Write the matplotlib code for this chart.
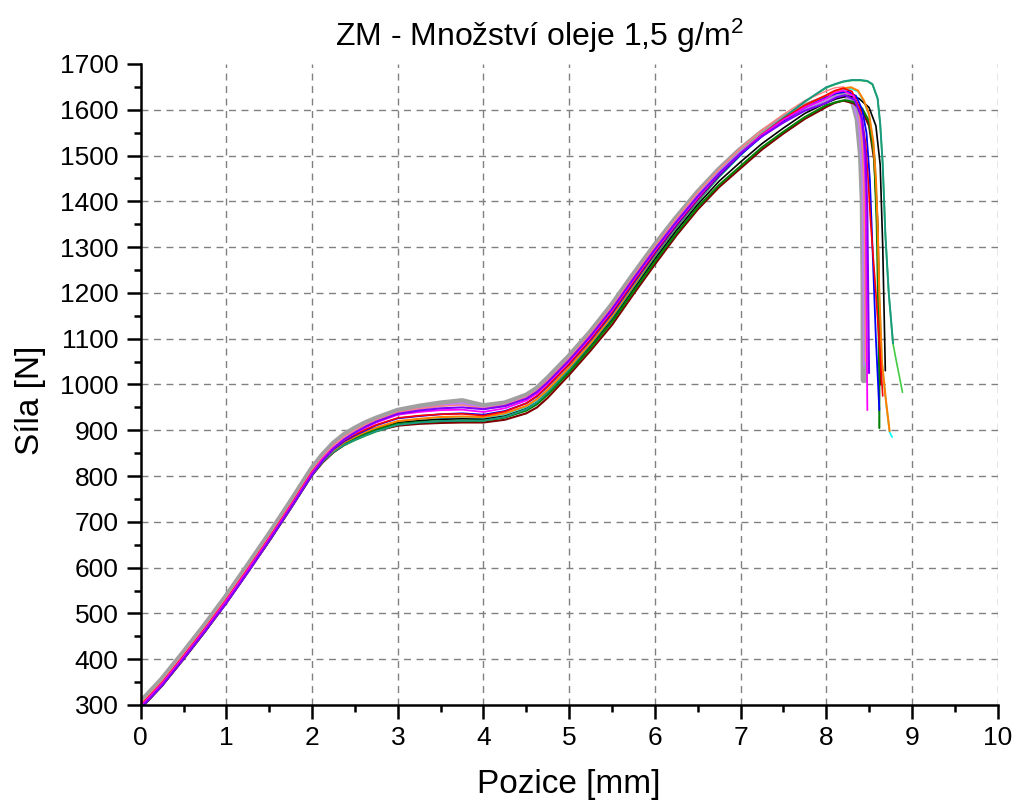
import matplotlib
matplotlib.use("Agg")
import matplotlib.pyplot as plt
from matplotlib.ticker import MultipleLocator

plt.rcParams['font.family'] = ['Liberation Sans', 'DejaVu Sans']
plt.rcParams['mathtext.fontset'] = 'custom'
plt.rcParams['mathtext.rm'] = 'Liberation Sans'

# common positions [mm] for the loading part of every test
X_BODY = [0, 0.25, 0.5, 0.75, 1.0, 1.25, 1.5, 1.75, 2.0,
          2.125, 2.25, 2.375, 2.5, 2.625, 2.75,
          3.0, 3.25, 3.5, 3.75, 4.0,
          4.25, 4.5, 4.625, 4.75,
          5.0, 5.25, 5.5, 5.75, 6.0, 6.25, 6.5, 6.75, 7.0, 7.25, 7.5, 7.75, 8.0]

# force [N] on X_BODY for each measurement
gray_f = [305, 355, 413, 473, 536, 603, 671, 742, 815,
          845, 870, 889, 903, 915, 925,
          942, 951, 958, 963, 952,
          958, 975, 990, 1012,
          1060, 1113, 1172, 1238, 1302, 1362, 1418, 1468, 1512, 1550, 1581, 1607, 1625]
salmon_f = [302, 352, 410, 470, 533, 600, 668, 739, 812,
            842, 867, 886, 900, 912, 922,
            939, 947, 953, 955, 948,
            955, 972, 987, 1009,
            1057, 1111, 1170, 1236, 1301, 1362, 1419, 1470, 1516, 1556, 1590, 1620, 1641]
lavender_f = [300, 351, 409, 469, 532, 599, 667, 738, 811,
              841, 866, 885, 899, 911, 921,
              938, 947, 954, 959, 949,
              955, 972, 986, 1008,
              1056, 1109, 1168, 1234, 1298, 1358, 1414, 1464, 1508, 1546, 1577, 1603, 1621]
purple_f = [293, 343, 401, 461, 523, 590, 659, 730, 803,
            834, 860, 880, 895, 908, 919,
            936, 943, 948, 950, 946,
            953, 969, 984, 1005,
            1053, 1106, 1165, 1231, 1295, 1355, 1411, 1461, 1505, 1542, 1572, 1598, 1615]
magenta_f = [297, 347, 405, 465, 528, 595, 663, 734, 807,
             838, 862, 880, 894, 906, 917,
             934, 940, 944, 945, 940,
             948, 965, 980, 1002,
             1050, 1103, 1162, 1228, 1292, 1352, 1408, 1460, 1505, 1545, 1578, 1605, 1625]
red_f = [299, 349, 407, 467, 530, 597, 665, 736, 809,
         838, 861, 878, 891, 902, 912,
         927, 932, 935, 936, 932,
         941, 959, 975, 997,
         1045, 1099, 1158, 1224, 1289, 1350, 1406, 1459, 1505, 1546, 1580, 1610, 1632]
blue_f = [295, 345, 403, 463, 526, 593, 661, 732, 805,
          835, 859, 876, 889, 900, 911,
          926, 931, 935, 937, 934,
          942, 959, 974, 996,
          1044, 1097, 1155, 1221, 1286, 1347, 1404, 1456, 1502, 1542, 1576, 1605, 1627]
orange_f = [296, 346, 404, 464, 527, 594, 662, 733, 806,
            835, 857, 874, 886, 897, 906,
            920, 925, 929, 930, 929,
            937, 953, 968, 989,
            1038, 1091, 1150, 1217, 1284, 1346, 1403, 1456, 1503, 1544, 1578, 1608, 1630]
cyan_f = [295, 345, 403, 463, 526, 593, 661, 732, 805,
          834, 856, 873, 885, 896, 905,
          919, 924, 927, 928, 927,
          935, 951, 966, 987,
          1036, 1089, 1148, 1215, 1282, 1344, 1401, 1454, 1501, 1542, 1576, 1606, 1628]
green_f = [293, 343, 401, 461, 524, 591, 659, 730, 803,
           832, 855, 871, 883, 893, 902,
           914, 918, 920, 921, 921,
           928, 943, 957, 978,
           1027, 1080, 1137, 1203, 1268, 1330, 1387, 1436, 1477, 1518, 1552, 1584, 1610]
brown_f = [292, 342, 400, 460, 523, 590, 658, 729, 802,
           830, 852, 868, 880, 890, 899,
           910, 914, 916, 917, 917,
           923, 937, 950, 971,
           1021, 1074, 1130, 1197, 1262, 1325, 1382, 1431, 1472, 1513, 1548, 1580, 1606]
black_f = [293, 344, 402, 462, 525, 592, 660, 731, 803,
           833, 856, 873, 885, 895, 904,
           917, 921, 924, 925, 924,
           931, 947, 961, 982,
           1031, 1085, 1142, 1208, 1274, 1336, 1393, 1444, 1486, 1526, 1560, 1592, 1615]
teal_f = [294, 344, 402, 462, 525, 592, 660, 731, 804,
          832, 853, 868, 879, 889, 898,
          912, 917, 920, 921, 921,
          929, 946, 961, 983,
          1033, 1088, 1146, 1213, 1280, 1343, 1400, 1454, 1502, 1545, 1582, 1618, 1649]
lime_f = [293, 343, 401, 461, 524, 591, 659, 730, 803,
          831, 852, 867, 878, 888, 897,
          911, 916, 919, 920, 920,
          928, 945, 960, 982,
          1032, 1087, 1145, 1212, 1279, 1342, 1399, 1453, 1501, 1544, 1581, 1617, 1648]

# peak and fracture part (position, force)
gray_tx = [8.1, 8.17, 8.25, 8.32, 8.37, 8.41, 8.43, 8.44, 8.44]
gray_ty = [1634, 1638, 1634, 1615, 1580, 1500, 1400, 1200, 1010]
salmon_tx = [8.1, 8.2, 8.3, 8.38, 8.43, 8.45, 8.46]
salmon_ty = [1648, 1650, 1640, 1600, 1500, 1300, 1050]
lavender_tx = [8.15, 8.3, 8.38, 8.42, 8.44]
lavender_ty = [1632, 1620, 1570, 1450, 1040]
purple_tx = [8.12, 8.22, 8.33, 8.42, 8.46, 8.48, 8.49, 8.5]
purple_ty = [1627, 1632, 1622, 1580, 1500, 1380, 1200, 1025]
magenta_tx = [8.1, 8.2, 8.32, 8.4, 8.44, 8.46, 8.47, 8.48]
magenta_ty = [1637, 1642, 1630, 1590, 1530, 1430, 1200, 944]
red_tx = [8.1, 8.2, 8.3, 8.4, 8.46, 8.49, 8.52, 8.58, 8.63, 8.66]
red_ty = [1642, 1647, 1640, 1600, 1527, 1446, 1350, 1200, 1060, 975]
blue_tx = [8.12, 8.25, 8.35, 8.42, 8.47, 8.51, 8.54, 8.58, 8.62]
blue_ty = [1636, 1640, 1630, 1600, 1550, 1446, 1300, 1100, 944]
orange_tx = [8.12, 8.2, 8.29, 8.37, 8.44, 8.5, 8.55, 8.58, 8.6, 8.62, 8.65, 8.7, 8.74]
orange_ty = [1641, 1647, 1649, 1642, 1620, 1590, 1530, 1450, 1350, 1200, 1050, 960, 898]
cyan_tx = [8.12, 8.2, 8.29, 8.37, 8.44, 8.5, 8.55, 8.58, 8.6, 8.62, 8.65, 8.7, 8.74, 8.77]
cyan_ty = [1638, 1644, 1646, 1640, 1618, 1588, 1528, 1448, 1348, 1198, 1048, 958, 896, 885]
green_tx = [8.12, 8.22, 8.32, 8.42, 8.5, 8.56, 8.59, 8.61, 8.62, 8.62]
green_ty = [1617, 1621, 1617, 1603, 1575, 1500, 1350, 1150, 1000, 905]
brown_tx = [8.1, 8.2, 8.32, 8.42, 8.5, 8.56, 8.6, 8.62, 8.63]
brown_ty = [1615, 1620, 1614, 1598, 1565, 1490, 1350, 1150, 1000]
black_tx = [8.12, 8.25, 8.38, 8.5, 8.58, 8.63, 8.66, 8.68, 8.69]
black_ty = [1624, 1630, 1625, 1605, 1565, 1480, 1300, 1120, 1030]
teal_tx = [8.1, 8.2, 8.3, 8.4, 8.48, 8.54, 8.6, 8.63, 8.66, 8.69, 8.73, 8.78]
teal_ty = [1656, 1662, 1665, 1665, 1663, 1656, 1625, 1570, 1480, 1330, 1200, 1090]
lime_tx = [8.1, 8.2, 8.3, 8.4, 8.48, 8.54, 8.6, 8.63, 8.66, 8.69, 8.73, 8.78, 8.83, 8.86, 8.89]
lime_ty = [1655, 1661, 1664, 1664, 1662, 1655, 1624, 1569, 1479, 1329, 1199, 1089, 1040, 1012, 983]

# (body, tail x, tail y, colour, width), drawn bottom to top
curves = [
    (lime_f, lime_tx, lime_ty, '#44cc44', 1.2),
    (gray_f, gray_tx, gray_ty, '#a0a0a0', 4.8),
    (lavender_f, lavender_tx, lavender_ty, '#c080ff', 1.2),
    (salmon_f, salmon_tx, salmon_ty, '#ff8080', 1.0),
    (cyan_f, cyan_tx, cyan_ty, '#00ffff', 1.2),
    (brown_f, brown_tx, brown_ty, '#800000', 1.5),
    (black_f, black_tx, black_ty, '#000000', 1.2),
    (green_f, green_tx, green_ty, '#008000', 1.5),
    (teal_f, teal_tx, teal_ty, '#1a9a80', 1.4),
    (orange_f, orange_tx, orange_ty, '#ff8000', 1.5),
    (blue_f, blue_tx, blue_ty, '#0000ff', 1.3),
    (red_f, red_tx, red_ty, '#ff0000', 1.2),
    (magenta_f, magenta_tx, magenta_ty, '#ff00ff', 1.3),
    (purple_f, purple_tx, purple_ty, '#8000ff', 1.5),
]

fig = plt.figure(figsize=(10.2, 8.07), dpi=100)
ax = fig.add_axes([0.138, 0.1264, 0.840, 0.7943])

# dashed grid, without lines on the axis frame
for gx in range(1, 11):
    ax.axvline(gx, color='#808080', lw=1.0, ls=(0, (5, 4)), zorder=0)
for gy in range(400, 1700, 100):
    ax.axhline(gy, color='#808080', lw=1.0, ls=(0, (5, 4)), zorder=0)

for body, tx, ty, col, lw in curves:
    ax.plot(X_BODY + tx, body + ty, color=col, lw=lw,
            solid_joinstyle='round', solid_capstyle='round')

ax.set_xlim(0, 10)
ax.set_ylim(300, 1700)
ax.xaxis.set_major_locator(MultipleLocator(1))
ax.xaxis.set_minor_locator(MultipleLocator(0.5))
ax.yaxis.set_major_locator(MultipleLocator(100))
ax.yaxis.set_minor_locator(MultipleLocator(50))

for side in ['top', 'right']:
    ax.spines[side].set_visible(False)
for side in ['left', 'bottom']:
    ax.spines[side].set_linewidth(1.8)
ax.tick_params(which='major', direction='out', length=10, width=1.8, labelsize=19)
ax.tick_params(axis='y', which='major', pad=6)
ax.tick_params(axis='x', which='major', pad=5)
ax.tick_params(which='minor', direction='out', length=5, width=1.8)

ax.set_xlabel('Pozice [mm]', fontsize=24, labelpad=14)
ax.set_ylabel('Síla [N]', fontsize=24)
ax.yaxis.set_label_coords(-0.111, 0.476)
fig.text(0.529, 0.955, 'ZM - Množství oleje 1,5 g/m$\\mathregular{^2}$',
         fontsize=23, ha='center', va='center')

fig.savefig('out.png', dpi=100)
